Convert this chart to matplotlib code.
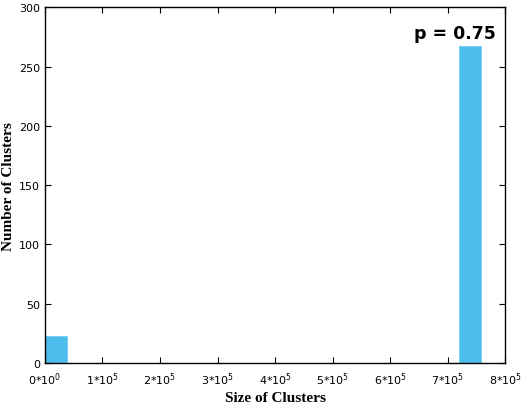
import numpy as np
from matplotlib import pyplot as plt

# histogram of cluster sizes (20 bins)
bin_lo = 0
bin_hi = 758000
counts = [23, 0, 0, 0, 0, 0, 0, 0, 0, 0, 0, 0, 0, 0, 0, 0, 0, 0, 0, 267]
x_ticks = [0, 1e5, 2e5, 3e5, 4e5, 5e5, 6e5, 7e5, 8e5]
x_tick_labels = [r'0*10$^0$'] + [r'%d*10$^5$' % i for i in range(1, 9)]
y_ticks = [0, 50, 100, 150, 200, 250, 300]

edges = np.linspace(bin_lo, bin_hi, len(counts) + 1)
width = edges[1] - edges[0]

fig = plt.figure(figsize=(5.29, 4.10), dpi=100)
ax = fig.add_axes([0.085, 0.112, 0.870, 0.868])

ax.bar(edges[:-1], counts, width=width, align='edge',
       color='#4dbdeb', edgecolor='#6fcdf2', linewidth=0.6)

ax.set_xlim(0, 8e5)
ax.set_ylim(0, 300)
ax.set_xticks(x_ticks)
ax.set_xticklabels(x_tick_labels)
ax.set_yticks(y_ticks)
ax.tick_params(direction='in', top=True, right=True, length=4,
               labelsize=8, width=0.8)
ax.tick_params(axis='x', pad=5)
for s in ax.spines.values():
    s.set_linewidth(1.0)

serif = {'family': 'Liberation Serif', 'weight': 'bold', 'size': 11}
ax.set_xlabel('Size of Clusters', fontdict=serif, va='center')
ax.set_ylabel('Number of Clusters', fontdict=serif, va='center')
ax.xaxis.set_label_coords(0.5, -0.096)
ax.yaxis.set_label_coords(-0.079, 0.5)

ax.text(7.84e5, 274, 'p = 0.75', ha='right', va='baseline',
        fontsize=12.5, fontweight='bold')

plt.savefig('out.png', dpi=100)
